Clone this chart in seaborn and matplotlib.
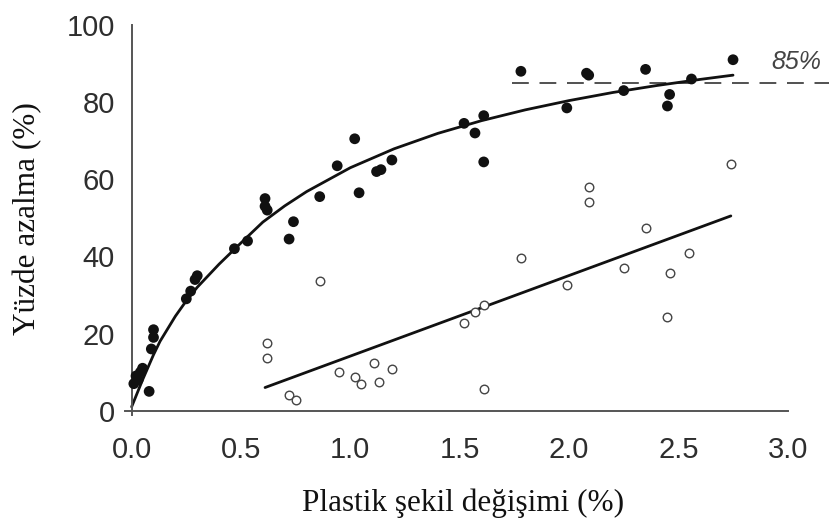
import matplotlib
matplotlib.use("Agg")
import matplotlib.pyplot as plt
import seaborn as sns
import pandas as pd

# Filled points (upper series)
filled_x = [0.01, 0.02, 0.03, 0.04, 0.05, 0.08, 0.09, 0.10, 0.10, 0.25, 0.27, 0.29, 0.30,
            0.47, 0.53, 0.61, 0.61, 0.62, 0.72, 0.74, 0.86, 0.94, 1.02, 1.04, 1.12, 1.14,
            1.19, 1.52, 1.57, 1.61, 1.61, 1.78, 1.99, 2.08, 2.09, 2.25, 2.35, 2.45, 2.46,
            2.56, 2.75]
filled_y = [7, 9, 8, 10, 11, 5, 16, 19, 21, 29, 31, 34, 35,
            42, 44, 55, 53, 52, 44.5, 49, 55.5, 63.5, 70.5, 56.5, 62, 62.5,
            65, 74.5, 72, 76.5, 64.5, 88, 78.5, 87.5, 87, 83, 88.5, 79, 82,
            86, 91]

# Open points (lower series)
open_x = [0.62, 0.62, 0.72, 0.75, 0.86, 0.95, 1.02, 1.05, 1.11, 1.13, 1.19, 1.52, 1.57,
          1.61, 1.61, 1.78, 1.99, 2.09, 2.09, 2.25, 2.35, 2.45, 2.46, 2.55, 2.74]
open_y = [17.5, 13.7, 4, 2.8, 33.6, 10, 8.7, 7, 12.3, 7.4, 10.8, 22.7, 25.5,
          27.4, 5.6, 39.6, 32.6, 58, 54, 37, 47.3, 24.3, 35.7, 40.8, 64]

# Fitted curve
curve_x = [0.0, 0.05, 0.10, 0.13, 0.20, 0.25, 0.30, 0.40, 0.50, 0.60, 0.70, 0.80, 1.00,
           1.20, 1.40, 1.60, 1.80, 2.00, 2.20, 2.40, 2.60, 2.75]
curve_y = [1, 8, 14.5, 18, 24.5, 28.5, 32, 38, 43.5, 48.9, 53.1, 56.8, 63.0,
           67.9, 71.9, 75.2, 78.0, 80.4, 82.5, 84.3, 85.9, 87.0]

# Linear fit line for open points
line_x = [0.61, 2.74]
line_y = [6, 50.5]

# 85% reference level
ref_x = [1.74, 3.25]
ref_y = [85, 85]

x_ticks = [0.0, 0.5, 1.0, 1.5, 2.0, 2.5, 3.0]
x_ticklabels = ["0.0", "0.5", "1.0", "1.5", "2.0", "2.5", "3.0"]
y_ticks = [0, 20, 40, 60, 80, 100]
y_ticklabels = ["0", "20", "40", "60", "80", "100"]

sns.set_style("white")
plt.rcParams["font.family"] = ["Liberation Sans", "DejaVu Sans"]

fig = plt.figure(figsize=(8.3, 5.27), dpi=100)
ax = fig.add_axes([0.1507, 0.2061, 0.8484, 0.7757])

df_f = pd.DataFrame({"x": filled_x, "y": filled_y})
df_o = pd.DataFrame({"x": open_x, "y": open_y})
df_c = pd.DataFrame({"x": curve_x, "y": curve_y})
df_l = pd.DataFrame({"x": line_x, "y": line_y})
df_r = pd.DataFrame({"x": ref_x, "y": ref_y})

sns.lineplot(data=df_r, x="x", y="y", ax=ax, color="#222222", lw=1.1,
             linestyle=(0, (11, 7)), sort=False, estimator=None)
sns.lineplot(data=df_c, x="x", y="y", ax=ax, color="#111111", lw=2.0,
             sort=False, estimator=None)
sns.lineplot(data=df_l, x="x", y="y", ax=ax, color="#111111", lw=2.0,
             sort=False, estimator=None)
sns.scatterplot(data=df_f, x="x", y="y", ax=ax, color="#111111", s=60,
                edgecolor="none", linewidth=0, clip_on=False, zorder=5)
sns.scatterplot(data=df_o, x="x", y="y", ax=ax, facecolor="white",
                edgecolor="#444444", s=38, linewidth=1.0, clip_on=False, zorder=5)

ax.set_xlim(-0.03, 3.19)
ax.set_ylim(-2, 104)

for s in ["top", "right"]:
    ax.spines[s].set_visible(False)
ax.spines["left"].set_position(("data", 0))
ax.spines["bottom"].set_position(("data", 0))
ax.spines["left"].set_bounds(-1, 100)
ax.spines["bottom"].set_bounds(-0.03, 3.0)
for s in ["left", "bottom"]:
    ax.spines[s].set_color("#555555")
    ax.spines[s].set_linewidth(1.4)

ax.set_xticks(x_ticks)
ax.set_xticklabels(x_ticklabels)
ax.set_yticks(y_ticks)
ax.set_yticklabels(y_ticklabels)
ax.tick_params(axis="both", direction="inout", length=15, width=1.2,
               color="#555555", labelsize=21, labelcolor="#2e2e2e")
ax.tick_params(axis="x", pad=10.5)
ax.tick_params(axis="y", pad=4.5)

ax.set_xlabel("")
ax.set_ylabel("")

ax.text(3.04, 90.5, "85%", fontsize=18, style="italic", color="#444444",
        ha="center", va="center", clip_on=False)

fig.text(463 / 830, 1 - 503 / 527, "Plastik şekil değişimi (%)",
         family=["Liberation Serif", "DejaVu Serif"], fontsize=22.5,
         ha="center", va="center", color="#111111")
fig.text(28 / 830, 1 - 219 / 527, "Yüzde azalma (%)",
         family=["Liberation Serif", "DejaVu Serif"], fontsize=22.5,
         ha="center", va="center", rotation=90, color="#111111")

fig.savefig("out.png", dpi=100)
